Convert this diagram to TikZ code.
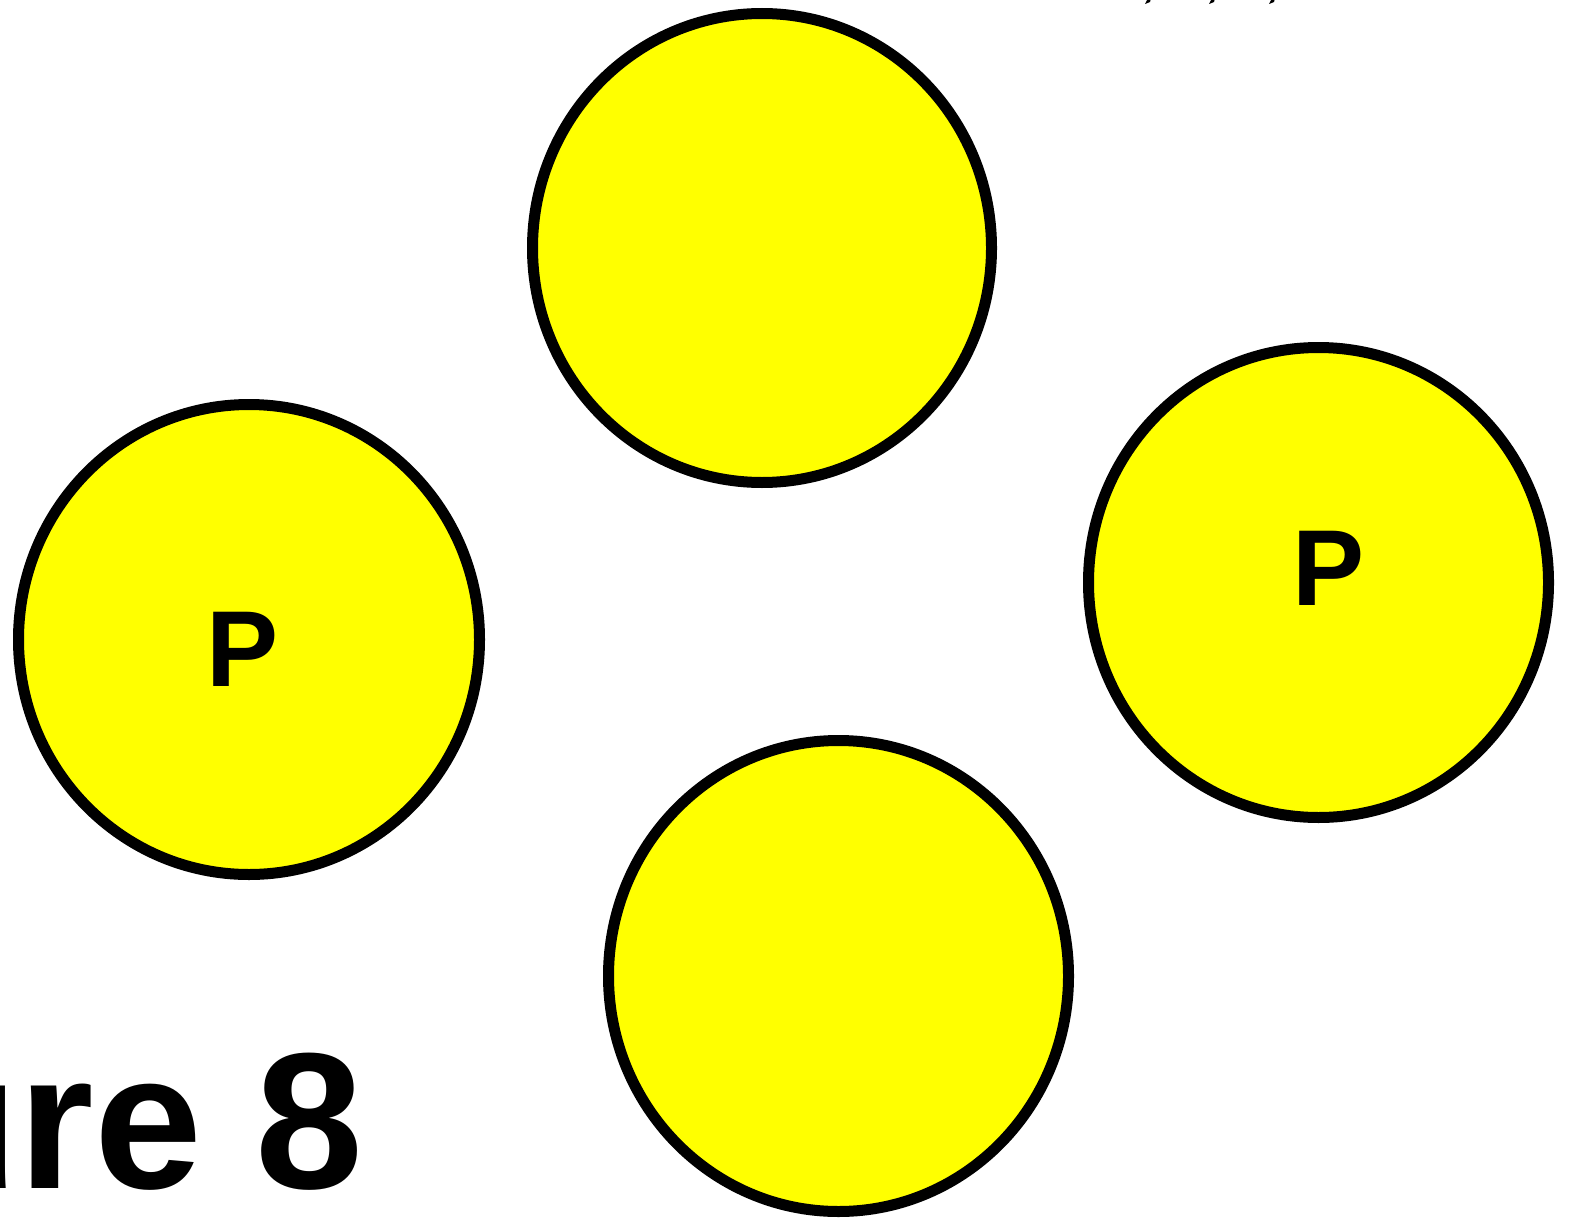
\documentclass[tikz,border=0pt]{standalone}
\usepackage{fontspec}
\setmainfont{Liberation Sans}
\definecolor{discyellow}{RGB}{255,255,0}
\begin{document}
\begin{tikzpicture}[x=1pt,y=-1pt,
  disc/.style={draw=black,line width=11pt,fill=discyellow},
  plabel/.style={font=\fontsize{108}{110}\selectfont\bfseries,inner sep=0pt},
  title/.style={font=\fontsize{194}{200}\selectfont\bfseries,inner sep=0pt}]
\useasboundingbox (0,0) rectangle (1571,1220);
\clip (0,0) rectangle (1571,1220);
\draw[disc] (762,248) ellipse [x radius=229.5,y radius=234.5];
\draw[disc] (249,639.5) ellipse [x radius=230.5,y radius=235];
\draw[disc] (1318.5,582.5) ellipse [x radius=230,y radius=235];
\draw[disc] (838.5,976) ellipse [x radius=230,y radius=235.5];
\node[plabel] (p1) at (243,649.5) {P};
\node[plabel] (p2) at (1329,568.5) {P};
\node[title,anchor=base east] (fig) at (364,1188) {Figure 8};
\foreach \x in {1148,1212,1272}
  \fill (\x,-2) -- (\x+3,-2) -- (\x+2,2) -- (\x-3,4) -- cycle;
\end{tikzpicture}
\end{document}
